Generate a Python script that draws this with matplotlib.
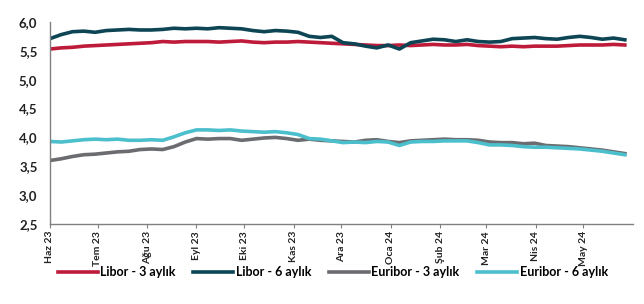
import matplotlib
matplotlib.use("Agg")
import matplotlib.pyplot as plt
import pandas as pd

plt.rcParams['font.family'] = ['Lato', 'DejaVu Sans']

# weekly-ish sampling, Jun 2023 - May 2024
dates = pd.date_range('2023-06-01', '2024-05-27', periods=52)

libor_3m = [5.53, 5.55, 5.56, 5.58, 5.59, 5.60, 5.61, 5.62, 5.63, 5.64,
            5.66, 5.65, 5.66, 5.66, 5.66, 5.65, 5.66, 5.67, 5.65, 5.64,
            5.65, 5.65, 5.66, 5.65, 5.64, 5.63, 5.62, 5.61, 5.60, 5.59,
            5.59, 5.60, 5.59, 5.60, 5.61, 5.60, 5.60, 5.61, 5.59, 5.58,
            5.57, 5.58, 5.57, 5.58, 5.58, 5.58, 5.59, 5.60, 5.60, 5.60,
            5.61, 5.60]
libor_6m = [5.71, 5.78, 5.83, 5.84, 5.82, 5.85, 5.86, 5.87, 5.86, 5.86,
            5.87, 5.89, 5.88, 5.89, 5.88, 5.90, 5.89, 5.88, 5.85, 5.83,
            5.85, 5.84, 5.82, 5.75, 5.73, 5.75, 5.64, 5.62, 5.58, 5.55,
            5.60, 5.53, 5.64, 5.67, 5.70, 5.69, 5.66, 5.69, 5.66, 5.65,
            5.66, 5.71, 5.72, 5.73, 5.71, 5.70, 5.73, 5.75, 5.73, 5.70,
            5.72, 5.69]
euribor_3m = [3.60, 3.63, 3.67, 3.70, 3.71, 3.73, 3.75, 3.76, 3.79, 3.80,
              3.79, 3.84, 3.92, 3.98, 3.97, 3.98, 3.98, 3.95, 3.97, 3.99,
              4.00, 3.98, 3.95, 3.97, 3.95, 3.94, 3.93, 3.92, 3.95, 3.96,
              3.93, 3.91, 3.94, 3.95, 3.96, 3.97, 3.96, 3.96, 3.95, 3.92,
              3.91, 3.91, 3.89, 3.90, 3.86, 3.85, 3.84, 3.82, 3.80, 3.78,
              3.75, 3.72]
euribor_6m = [3.93, 3.92, 3.94, 3.96, 3.97, 3.96, 3.97, 3.95, 3.95, 3.96,
              3.95, 4.01, 4.08, 4.13, 4.13, 4.12, 4.13, 4.11, 4.10, 4.09,
              4.10, 4.08, 4.05, 3.98, 3.97, 3.94, 3.91, 3.92, 3.91, 3.93,
              3.92, 3.86, 3.92, 3.93, 3.93, 3.94, 3.94, 3.94, 3.91, 3.87,
              3.87, 3.86, 3.84, 3.83, 3.83, 3.82, 3.81, 3.80, 3.78, 3.76,
              3.73, 3.70]

series_names = ['Libor - 3 aylık', 'Libor - 6 aylık', 'Euribor - 3 aylık', 'Euribor - 6 aylık']
series_colors = ['#BE1B3B', '#0D4555', '#6B6C70', '#4CBFCC']

month_labels = ['Haz 23', 'Tem 23', 'Ağu 23', 'Eyl 23', 'Eki 23', 'Kas 23',
                'Ara 23', 'Oca 24', 'Şub 24', 'Mar 24', 'Nis 24', 'May 24']
month_ticks = pd.date_range('2023-06-01', periods=12, freq='MS')

fig = plt.figure(figsize=(6.44, 3.04), dpi=100)
ax = fig.add_axes([0.0776, 0.263, 0.905, 0.665])

for vals, name, c in zip([libor_3m, libor_6m, euribor_3m, euribor_6m], series_names, series_colors):
    ax.plot(dates, vals, color=c, lw=2.6, label=name, solid_joinstyle='round')

ax.set_xlim(pd.Timestamp('2023-06-01'), pd.Timestamp('2024-06-01'))
ax.set_ylim(2.5, 6.0)
ax.set_yticks([2.5, 3.0, 3.5, 4.0, 4.5, 5.0, 5.5, 6.0])
ax.set_yticklabels([f'{v:.1f}'.replace('.', ',') for v in ax.get_yticks()],
                   fontsize=9.5, fontweight='bold', color='#222222')
ax.set_xticks(month_ticks)
ax.set_xticklabels(month_labels, rotation=90, ha='center', va='top',
                   fontsize=7.5, fontweight='bold', color='#222222')

for s in ['top', 'right']:
    ax.spines[s].set_visible(False)
for s in ['left', 'bottom']:
    ax.spines[s].set_color('#808080')
    ax.spines[s].set_linewidth(1.0)
ax.tick_params(axis='y', length=0, pad=9)
ax.tick_params(axis='x', length=3, color='#808080', pad=2)

fig.legend(loc='center', bbox_to_anchor=(0.517, 0.104), ncol=4, frameon=False,
           prop={'size': 9, 'weight': 'bold'}, handlelength=3.2, handletextpad=0.2,
           columnspacing=1.4)

fig.savefig('out.png', dpi=100)
